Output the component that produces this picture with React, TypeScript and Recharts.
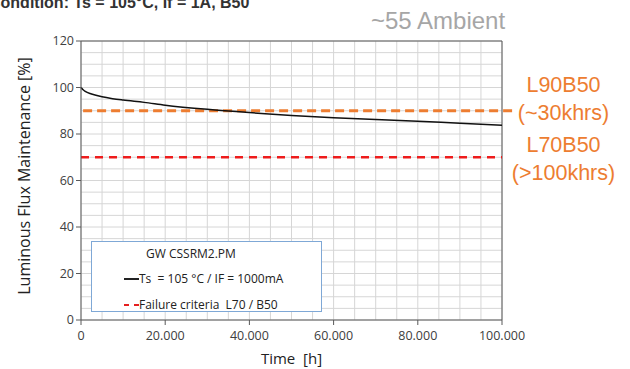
import { LineChart, Line, XAxis, YAxis, CartesianGrid, ReferenceLine } from "recharts";

const hours = [0, 500, 1000, 2500, 5000, 7500, 10000, 15000, 20000, 30000, 40000, 50000, 60000, 70000, 80000, 90000, 100000];
const flux = [100, 99.0, 98.3, 97.2, 96.0, 95.2, 94.6, 93.6, 92.4, 90.6, 89.2, 88.0, 87.0, 86.2, 85.5, 84.6, 83.8];

const xTicks = [0, 20000, 40000, 60000, 80000, 100000];
const yTicks = [0, 20, 40, 60, 80, 100, 120];
// minor gridlines every 5.000 h and every 5 %
const xGrid = Array.from({ length: 21 }, (_, i) => i * 5000);
const yGrid = Array.from({ length: 25 }, (_, i) => i * 5);

const l90 = 90;
const l70 = 70;

const data = hours.map((h, i) => ({ h, v: flux[i] }));

const W = 630;
const H = 369;
const M = { top: 41, right: 128, bottom: 29, left: 41 };
const Y_AXIS_W = 40;
const X_AXIS_H = 20;
const X_MAX = 100000;
const Y_MAX = 120;

// plot box, used to turn the grid values into pixel positions
const px0 = M.left + Y_AXIS_W;
const pw = W - M.right - px0;
const py0 = M.top;
const ph = H - M.bottom - X_AXIS_H - py0;

const fmt = (v: number) => (v === 0 ? "0" : v.toLocaleString("de-DE"));

const tickStyle = { fontSize: 12.5, fill: "#404040", fontFamily: "Open Sans, sans-serif" };
const orange = "#ed7d31";

export default function App() {
  return (
    <div style={{ position: "absolute", left: 0, top: 0, width: W, height: H, background: "#fff", overflow: "hidden", fontFamily: "Liberation Sans, Arial, sans-serif" }}>
      <div style={{ position: "absolute", left: -11, top: -6, fontSize: 16, lineHeight: "18px", fontWeight: 700, color: "#333", whiteSpace: "nowrap" }}>
        Condition: Ts = 105°C, If = 1A, B50
      </div>
      <div style={{ position: "absolute", left: 371, top: 7, fontSize: 24, lineHeight: "28px", color: "#a6a6a6" }}>~55 Ambient</div>

      <LineChart width={W} height={H} data={data} margin={M}>
        <CartesianGrid
          stroke="#d6d6d6"
          strokeWidth={1}
          verticalPoints={xGrid.map((x) => px0 + (x / X_MAX) * pw)}
          horizontalPoints={yGrid.map((y) => py0 + ph - (y / Y_MAX) * ph)}
        />
        <XAxis
          dataKey="h"
          type="number"
          domain={[0, X_MAX]}
          ticks={xTicks}
          tickFormatter={fmt}
          height={X_AXIS_H}
          tick={{ ...tickStyle, dy: 4 }}
          stroke="#595959"
          tickSize={5}
          label={{ value: "Time\u00a0 [h]", position: "bottom", offset: 13, style: { fontSize: 15, fill: "#222", fontFamily: "Open Sans, sans-serif" } }}
        />
        <YAxis
          type="number"
          domain={[0, Y_MAX]}
          ticks={yTicks}
          width={Y_AXIS_W}
          tick={tickStyle}
          stroke="#595959"
          tickSize={5}
        />
        <ReferenceLine y={Y_MAX} stroke="#595959" />
        <ReferenceLine x={X_MAX} stroke="#595959" />
        <ReferenceLine y={l70} stroke="#ee1c1c" strokeWidth={2.5} strokeDasharray="8 6" />
        <ReferenceLine
          segment={[{ x: 500, y: l90 }, { x: 102700, y: l90 }]}
          ifOverflow="visible"
          stroke={orange}
          strokeWidth={3}
          strokeDasharray="9 5"
        />
        <Line type="monotone" dataKey="v" stroke="#111" strokeWidth={1.5} dot={false} isAnimationActive={false} />
      </LineChart>

      <div style={{ position: "absolute", left: 24, top: 176, transform: "translate(-50%, -50%) rotate(-90deg)", fontSize: 16, color: "#222", whiteSpace: "nowrap", fontFamily: "Open Sans, sans-serif" }}>
        Luminous Flux Maintenance [%]
      </div>

      <div style={{ position: "absolute", left: 505, top: 71, width: 117, textAlign: "center", fontSize: 21.5, color: orange, lineHeight: "28px" }}>
        <div>L90B50</div>
        <div>(~30khrs)</div>
        <div style={{ marginTop: 4 }}>L70B50</div>
        <div>(&gt;100khrs)</div>
      </div>

      <div style={{ position: "absolute", left: 91, top: 241, width: 229, height: 69, border: "1px solid #7fa8d6", background: "#fff", fontFamily: "Open Sans, sans-serif", fontSize: 12, color: "#222" }}>
        <div style={{ position: "absolute", left: 54, top: 3 }}>GW CSSRM2.PM</div>
        <div style={{ position: "absolute", left: 32, top: 28, display: "flex", alignItems: "center", whiteSpace: "pre" }}>
          <span style={{ display: "inline-block", width: 15, height: 2, background: "#222" }} />
          <span>Ts  = 105 °C / IF = 1000mA</span>
        </div>
        <div style={{ position: "absolute", left: 32, top: 54, display: "flex", alignItems: "center", whiteSpace: "pre" }}>
          <span style={{ display: "inline-block", width: 15, height: 2, background: "linear-gradient(90deg, #e52020 0 5px, transparent 5px 10px, #e52020 10px 15px)" }} />
          <span>Failure criteria  L70 / B50</span>
        </div>
      </div>
    </div>
  );
}
